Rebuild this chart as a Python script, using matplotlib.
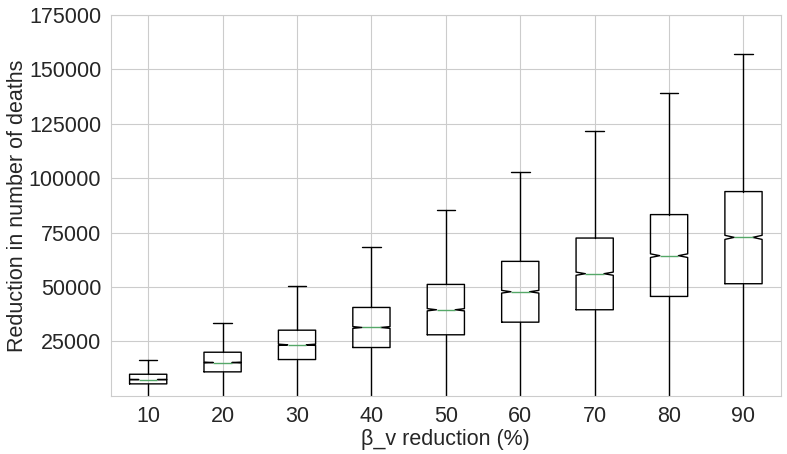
import matplotlib
matplotlib.use('Agg')
import matplotlib.pyplot as plt
import seaborn as sns
import numpy as np

sns.set_style('whitegrid')
plt.rcParams['font.family'] = ['Liberation Sans', 'DejaVu Sans']

# beta_v reduction levels and box statistics
reductions = [10, 20, 30, 40, 50, 60, 70, 80, 90]
q1 = [5520, 11040, 16700, 22220, 28070, 33870, 39570, 45690, 51530]
medians = [7500, 15320, 23470, 31430, 39570, 47850, 56140, 64420, 72830]
q3 = [9940, 20060, 30190, 40630, 51210, 61800, 72520, 83290, 93870]
whis_hi = [16560, 33600, 50600, 68240, 85590, 103070, 121620, 139100, 157050]
whis_lo = [-1100, -2500, -3500, -5400, -6600, -8000, -9800, -11700, -12000]
n_samples = 5000

stats = []
for i, r in enumerate(reductions):
    iqr = q3[i] - q1[i]
    half = 1.57 * iqr / np.sqrt(n_samples)
    stats.append({
        'label': str(r),
        'q1': q1[i], 'med': medians[i], 'q3': q3[i],
        'whislo': whis_lo[i], 'whishi': whis_hi[i],
        'cilo': medians[i] - half, 'cihi': medians[i] + half,
        'fliers': [],
    })

fig = plt.figure(figsize=(7.87, 4.54), dpi=100)
ax = fig.add_axes([0.141, 0.128, 0.851, 0.839])

ax.bxp(stats, shownotches=True, showfliers=False,
       boxprops=dict(color='black', linewidth=1),
       whiskerprops=dict(color='black', linewidth=1),
       capprops=dict(color='black', linewidth=1),
       medianprops=dict(color='#55a868', linewidth=1))

ax.set_ylim(0, 175000)
ax.set_yticks([25000, 50000, 75000, 100000, 125000, 150000, 175000])
ax.tick_params(labelsize=15.5, colors='#262626')
ax.set_xlabel('β_v reduction (%)', fontsize=15.5, color='#262626', labelpad=2)
ax.set_ylabel('Reduction in number of deaths', fontsize=15.5, color='#262626', labelpad=0.5)

fig.savefig('out.png', dpi=100)
